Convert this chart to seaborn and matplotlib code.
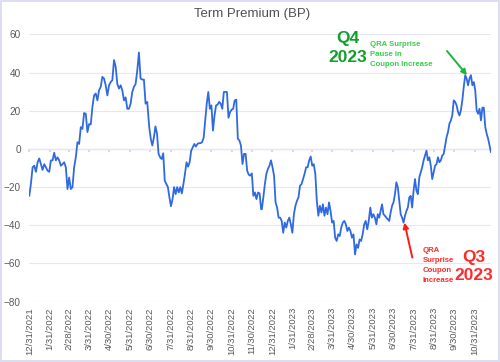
import seaborn as sns
import matplotlib.pyplot as plt
import pandas as pd
import numpy as np

# term premium readings (bp), split into four stretches of the chart
seg1_start, seg1_end = '2021-12-31', '2022-06-26'
seg1_values = [-24.6, -18, -9.6, -8.8, -12, -7, -5, -8, -11, -8, -9.6, -11.4, -12, -6, -6, -2,
               -6, -4.4, -6, -8.8, -8, -7, -9.6, -21, -15, -21, -20, -9.6, -4.4, 3.5, 2.6, 11.4,
               10.5, 18.8, 18.4, 8.8, 13, 12.8, 22, 28, 29, 25.4, 30.7, 32.5, 37.7, 36.8, 33.3,
               28, 33.3, 35, 36, 46.5, 43, 34, 31.6, 33.3, 30.7, 25.4, 27, 21, 21, 23.7, 29.8,
               32.5, 34, 41, 50.5, 36.8, 36.3, 36.3, 23.7, 24.6]

seg2_start, seg2_end = '2022-06-29', '2022-12-14'
seg2_values = [11.4, 5.3, 1.8, 6, 11.8, 8, -2.6, -4.4, -5.3, -2.3, -16.7, -18.4, -20, -25.4, -30,
               -26.3, -20, -23.7, -20, -22.8, -20, -23.3, -18.4, -13, -7, -9.3, -7, -0.9, 0.9,
               2.6, 1.2, 2.6, 3, 3, 3.5, 5.8, 15, 23.7, 29.8, 21, 22.8, 9.6, 17.5, 22.8, 23.2,
               24.6, 23.7, 21, 29.8, 29.8, 29.8, 16.3, 19.3, 20.5, 21, 25.4, 25.8, 5.3, 4.4, 1.8,
               -7.9, -2.6, -2.6, -11.4, -13.5, -14, -12.8, -24.6, -22.8, -26.3, -22.8, -23.3, -31.6]

seg3_start, seg3_end = '2022-12-15', '2023-06-05'
seg3_values = [-31.6, -25.4, -18.4, -13, -10.5, -8.8, -6, -9.6, -14, -28, -30.7, -36, -36, -37.7,
               -43.9, -38.6, -41.2, -37.7, -36, -39.5, -43.9, -34.2, -29.8, -27.2, -25.4, -19.3,
               -18.4, -15.8, -13, -9.6, -9.6, -6, -4, -8.8, -8, -13, -27.2, -35, -29.8, -33.3,
               -29, -35, -30.7, -34.2, -28, -32.5, -38.6, -37.7, -46.5, -48.2, -44.7, -45.6,
               -41.2, -38.6, -37.7, -39.5, -43, -41.2, -43, -46.5, -44.7, -55.3, -50, -51.8,
               -47.4, -48.2, -44.7, -39.5, -37.7, -42.1, -37.7, -30.7, -36, -34.2, -36, -39.5]

seg4_start, seg4_end = '2023-06-07', '2023-11-24'
seg4_values = [-34.2, -36, -32.5, -29, -34.2, -35, -36, -36.8, -37.7, -33.3, -29.8, -28, -23.7,
               -17.5, -20, -27.2, -34.2, -36, -38.6, -35, -32.5, -30.7, -25.4, -24.6, -30.7,
               -21.9, -15.8, -21.9, -23.7, -14.9, -12.3, -9.6, -6, -3.5, -0.9, -6, -4.4, -8.8,
               -15.8, -12.3, -8.8, -8, -4.4, -7, -6, -3.5, -2.6, 1.8, 6.1, 8.8, 13.2, 14.9, 17.5,
               25.4, 24.6, 22.8, 19.3, 17.5, 20.2, 25.4, 32.5, 38.6, 36.8, 33.3, 36.8, 38.6, 33.3,
               35, 30.7, 20.2, 18.4, 21, 14.9, 21.6, 21.6, 11.4, 7.9, 5.3, 1.8, -1.8]

segments = [(seg1_start, seg1_end, seg1_values), (seg2_start, seg2_end, seg2_values),
            (seg3_start, seg3_end, seg3_values), (seg4_start, seg4_end, seg4_values)]

frames = []
for start, end, vals in segments:
    frames.append(pd.DataFrame({'date': pd.date_range(start, end, periods=len(vals)), 'value': vals}))
df = pd.concat(frames, ignore_index=True)

tick_dates = pd.date_range('2021-12-31', '2023-10-31', freq='ME')
tick_labels = [f'{d.month}/{d.day}/{d.year}' for d in tick_dates]

q4_peak = (pd.Timestamp('2023-10-19'), 38.6)
q3_trough = (pd.Timestamp('2023-07-17'), -38.6)

sns.set_theme(style='white')
plt.rcParams['font.family'] = ['Liberation Sans', 'DejaVu Sans']

fig = plt.figure(figsize=(5, 3.62), dpi=100)
fig.patch.set_edgecolor('#dcdcf2')
fig.patch.set_linewidth(1.5)
ax = fig.add_axes([0.0586, 0.1666, 0.9234, 0.7386])

sns.lineplot(data=df, x='date', y='value', ax=ax, color='#2f6ae2', linewidth=1.3, sort=False)

ax.set_ylim(-80, 60)
ax.set_yticks(np.arange(-80, 61, 20))
ax.set_xlim(df['date'].iloc[0], df['date'].iloc[-1])
ax.set_xticks(tick_dates)
ax.set_xticklabels(tick_labels, rotation=90)
ax.set_xlabel('')
ax.set_ylabel('')
ax.grid(axis='y', color='#e6e6f6', linewidth=0.8)
ax.grid(axis='x', visible=False)
for s in ax.spines.values():
    s.set_visible(False)
ax.tick_params(axis='both', length=0, labelcolor='#595959')
ax.tick_params(axis='x', pad=4, labelsize=6.8)
ax.tick_params(axis='y', pad=6, labelsize=7.2)

# horizontal axis line at zero with its tick marks
sec = ax.secondary_xaxis(80 / 140)
sec.set_xticks(tick_dates)
sec.tick_params(direction='in', length=2.5, color='#d4d4ec', labeltop=False, labelbottom=False)
for s in sec.spines.values():
    s.set_color('#d4d4ec')
    s.set_linewidth(0.9)

W, H = 500, 362
fig.text(252 / W, 1 - 14.5 / H, 'Term Premium (BP)', ha='center', va='center',
         fontsize=9.5, color='#505050')

fig.text(348 / W, 1 - 48 / H, 'Q4\n2023', ha='center', va='center', fontsize=12.5,
         fontweight='bold', color='#12a02a', linespacing=1.3)
fig.text(370 / W, 1 - 55 / H, 'QRA Surprise\nPause in\nCoupon Increase', ha='left', va='center',
         fontsize=5.6, fontweight='bold', color='#3ccc4c', linespacing=1.6,
         family=['Liberation Sans Narrow', 'Liberation Sans'])
ax.annotate('', xy=q4_peak, xytext=(447 / W, 1 - 51 / H), textcoords='figure fraction',
            arrowprops=dict(arrowstyle='-|>', color='#1fb43c', lw=1.4, mutation_scale=8,
                            shrinkA=0, shrinkB=0))

fig.text(474 / W, 1 - 266.5 / H, 'Q3\n2023', ha='center', va='center', fontsize=12.5,
         fontweight='bold', color='#ff2a2a', linespacing=1.3)
fig.text(422.5 / W, 1 - 265.5 / H, 'QRA\nSurprise\nCoupon\nIncrease', ha='left', va='center',
         fontsize=5.6, fontweight='bold', color='#ff2a2a', linespacing=1.55,
         family=['Liberation Sans Narrow', 'Liberation Sans'])
ax.annotate('', xy=q3_trough, xytext=(412.3 / W, 1 - 257.5 / H), textcoords='figure fraction',
            arrowprops=dict(arrowstyle='-|>', color='#ff1a1a', lw=1.4, mutation_scale=8,
                            shrinkA=0, shrinkB=0))

fig.savefig('out.png', dpi=100)
